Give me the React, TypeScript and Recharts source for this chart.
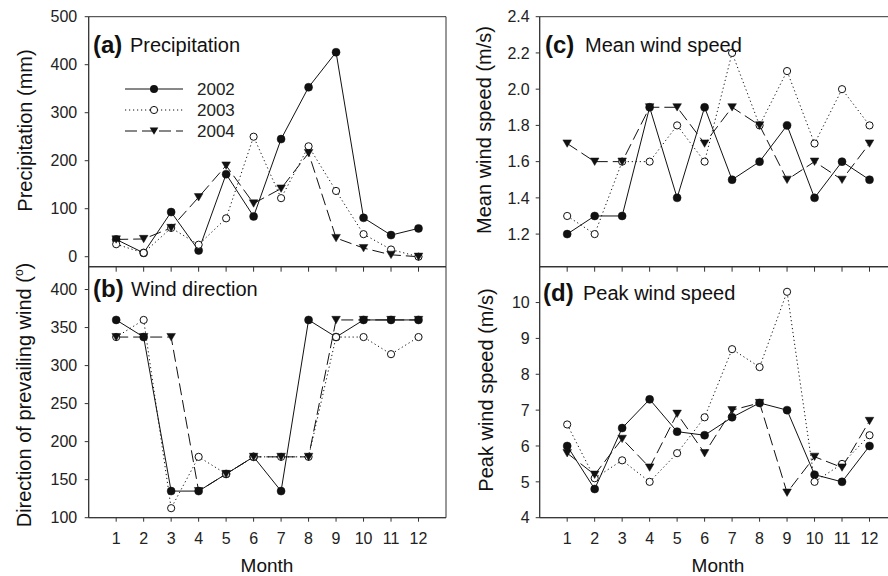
import React from 'react';
import { LineChart, Line, XAxis, YAxis, ReferenceArea } from 'recharts';

const months = [1, 2, 3, 4, 5, 6, 7, 8, 9, 10, 11, 12];
const seriesNames = ['2002', '2003', '2004'];

const precip2002 = [36, 8, 93, 13, 172, 84, 245, 353, 426, 81, 45, 59];
const precip2003 = [26, 8, 60, 25, 80, 250, 122, 230, 137, 47, 15, 0];
const precip2004 = [36, 37, 60, 124, 190, 111, 142, 216, 39, 18, 4, 0];

const dir2002 = [360, 337.5, 135, 135, 157.5, 180, 135, 360, 337.5, 360, 360, 360];
const dir2003 = [337.5, 360, 112.5, 180, 157.5, 180, 180, 180, 337.5, 337.5, 315, 337.5];
const dir2004 = [337.5, 337.5, 337.5, 135, 157.5, 180, 180, 180, 360, 360, 360, 360];

const mean2002 = [1.2, 1.3, 1.3, 1.9, 1.4, 1.9, 1.5, 1.6, 1.8, 1.4, 1.6, 1.5];
const mean2003 = [1.3, 1.2, 1.6, 1.6, 1.8, 1.6, 2.2, 1.8, 2.1, 1.7, 2.0, 1.8];
const mean2004 = [1.7, 1.6, 1.6, 1.9, 1.9, 1.7, 1.9, 1.8, 1.5, 1.6, 1.5, 1.7];

const peak2002 = [6.0, 4.8, 6.5, 7.3, 6.4, 6.3, 6.8, 7.2, 7.0, 5.2, 5.0, 6.0];
const peak2003 = [6.6, 5.1, 5.6, 5.0, 5.8, 6.8, 8.7, 8.2, 10.3, 5.0, 5.5, 6.3];
const peak2004 = [5.8, 5.2, 6.2, 5.4, 6.9, 5.8, 7.0, 7.2, 4.7, 5.7, 5.4, 6.7];

const precipTicks = [0, 100, 200, 300, 400, 500];
const dirTicks = [100, 150, 200, 250, 300, 350, 400];
const meanTicks = [1.2, 1.4, 1.6, 1.8, 2.0, 2.2, 2.4];
const peakTicks = [4, 5, 6, 7, 8, 9, 10];

const FONT = '"Liberation Sans", Arial, Helvetica, sans-serif';
const INK = '#111';
const AXIS = '#333';
const W = 900;
const H = 576;
const YW = 50;
const XH = 40;

const build = (a: number[], b: number[], c: number[]) =>
  months.map((m, i) => ({ month: m, s2002: a[i], s2003: b[i], s2004: c[i] }));

const FilledDot = (p: any) => {
  if (p.cx == null || p.cy == null) return <g key={`fe${p.index}`} />;
  return <circle key={`f${p.index}`} cx={p.cx} cy={p.cy} r={4} fill={INK} stroke={INK} strokeWidth={0.5} />;
};
const OpenDot = (p: any) => {
  if (p.cx == null || p.cy == null) return <g key={`oe${p.index}`} />;
  return <circle key={`o${p.index}`} cx={p.cx} cy={p.cy} r={3.6} fill="#fff" stroke={INK} strokeWidth={1} />;
};
const TriDot = (p: any) => {
  if (p.cx == null || p.cy == null) return <g key={`te${p.index}`} />;
  const { cx, cy } = p;
  return (
    <polygon
      key={`t${p.index}`}
      points={`${cx - 4.3},${cy - 3.6} ${cx + 4.3},${cy - 3.6} ${cx},${cy + 3.8}`}
      fill={INK}
      stroke={INK}
      strokeWidth={0.5}
    />
  );
};

const DOT_DASH = '1.2 2.8';
const LONG_DASH = '12 5';

const LegendBox = ({ x, y }: { x: number; y: number }) => (
  <g transform={`translate(${x},${y})`}>
    {seriesNames.map((name, i) => {
      const ly = 11 + i * 21;
      const dash = i === 0 ? undefined : i === 1 ? DOT_DASH : LONG_DASH;
      return (
        <g key={name}>
          <line x1={5} x2={63} y1={ly} y2={ly} stroke={INK} strokeWidth={1} strokeDasharray={dash} />
          {i === 0 && <circle cx={34} cy={ly} r={4} fill={INK} />}
          {i === 1 && <circle cx={34} cy={ly} r={3.6} fill="#fff" stroke={INK} />}
          {i === 2 && <polygon points={`${34 - 4.3},${ly - 3.6} ${34 + 4.3},${ly - 3.6} 34,${ly + 3.8}`} fill={INK} />}
          <text x={77} y={ly + 6} fontSize={17} fontFamily={FONT} fill="#222">
            {name}
          </text>
        </g>
      );
    })}
  </g>
);

type PanelProps = {
  data: any[];
  domain: [number, number];
  ticks: number[];
  x0: number;
  x1: number;
  y0: number;
  y1: number;
  showXLabels: boolean;
  tickMarginY: number;
  fmt?: (v: number) => string;
};

const Panel = ({ data, domain, ticks, x0, x1, y0, y1, showXLabels, tickMarginY, fmt }: PanelProps) => (
  <div style={{ position: 'absolute', left: 0, top: 0 }}>
    <LineChart
      width={W}
      height={H}
      data={data}
      margin={{ top: y0, left: x0 - YW, right: W - x1, bottom: H - y1 - XH }}
      style={{ fontFamily: FONT }}
    >
      <XAxis
        dataKey="month"
        type="number"
        domain={[0, 13]}
        ticks={months}
        allowDataOverflow
        height={XH}
        axisLine={{ stroke: AXIS, strokeWidth: 1 }}
        tickLine={{ stroke: AXIS, strokeWidth: 1 }}
        tickSize={showXLabels ? 4 : 5}
        tickMargin={11}
        tick={{ fontSize: 16, fill: '#222', fontFamily: FONT }}
        tickFormatter={showXLabels ? (v: number) => String(v) : () => ''}
        interval={0}
      />
      <YAxis
        type="number"
        domain={domain}
        ticks={ticks}
        allowDataOverflow
        width={YW}
        axisLine={{ stroke: AXIS, strokeWidth: 1 }}
        tickLine={{ stroke: AXIS, strokeWidth: 1 }}
        tickSize={4}
        tickMargin={tickMarginY}
        tick={{ fontSize: 16, fill: '#222', fontFamily: FONT }}
        tickFormatter={fmt}
        interval={0}
      />
      <ReferenceArea
        x1={0}
        x2={13}
        y1={domain[0]}
        y2={domain[1]}
        fill="none"
        stroke={AXIS}
        strokeWidth={1}
        ifOverflow="visible"
      />
      <Line
        dataKey="s2002"
        name="2002"
        stroke={INK}
        strokeWidth={1}
        dot={FilledDot}
        activeDot={false}
        isAnimationActive={false}
      />
      <Line
        dataKey="s2003"
        name="2003"
        stroke={INK}
        strokeWidth={1}
        strokeDasharray={DOT_DASH}
        dot={OpenDot}
        activeDot={false}
        isAnimationActive={false}
      />
      <Line
        dataKey="s2004"
        name="2004"
        stroke={INK}
        strokeWidth={1}
        strokeDasharray={LONG_DASH}
        dot={TriDot}
        activeDot={false}
        isAnimationActive={false}
      />
    </LineChart>
  </div>
);

const precipData = build(precip2002, precip2003, precip2004);
const dirData = build(dir2002, dir2003, dir2004);
const meanData = build(mean2002, mean2003, mean2004);
const peakData = build(peak2002, peak2003, peak2004);

const PanelTitle = ({ x, y, tag, label, gap }: { x: number; y: number; tag: string; label: string; gap: number }) => (
  <g>
    <text x={x} y={y + 1} fontSize={24} fontWeight="bold" fontFamily={FONT} fill="#111">
      {tag}
    </text>
    <text x={x + gap} y={y} fontSize={20} fontFamily={FONT} fill="#111">
      {label}
    </text>
  </g>
);

export default function App() {
  return (
    <div
      style={{
        position: 'fixed',
        left: 0,
        top: 0,
        width: 888,
        height: 576,
        overflow: 'hidden',
        background: '#fff',
      }}
    >
      <Panel data={precipData} domain={[-20.8, 500]} ticks={precipTicks} x0={88.7} x1={446} y0={16.7} y1={266.7} showXLabels={false} tickMarginY={7.5} />
      <Panel data={dirData} domain={[100, 430]} ticks={dirTicks} x0={88.7} x1={446} y0={266.7} y1={517.7} showXLabels tickMarginY={7.5} />
      <Panel data={meanData} domain={[1.02, 2.4]} ticks={meanTicks} x0={539.7} x1={897} y0={16.7} y1={266.7} showXLabels={false} tickMarginY={6} fmt={(v: number) => v.toFixed(1)} />
      <Panel data={peakData} domain={[4, 11]} ticks={peakTicks} x0={539.7} x1={897} y0={266.7} y1={517.7} showXLabels tickMarginY={6} />
      <svg width={888} height={576} style={{ position: 'absolute', left: 0, top: 0, pointerEvents: 'none' }}>
        <LegendBox x={120} y={78} />
        <PanelTitle x={93} y={52} tag="(a)" label="Precipitation" gap={37} />
        <PanelTitle x={93} y={295.5} tag="(b)" label="Wind direction" gap={38} />
        <PanelTitle x={545} y={52} tag="(c)" label="Mean wind speed" gap={40} />
        <PanelTitle x={543} y={300} tag="(d)" label="Peak wind speed" gap={40} />
        <text transform="translate(31.5,130.5) rotate(-90)" textAnchor="middle" fontSize={20} fontFamily={FONT} fill="#111">
          Precipitation (mm)
        </text>
        <text transform="translate(31,395) rotate(-90)" textAnchor="middle" fontSize={20} fontFamily={FONT} fill="#111">
          Direction of prevailing wind (<tspan fontSize={12} dy={-8}>o</tspan><tspan dy={8}>)</tspan>
        </text>
        <text transform="translate(490.5,130) rotate(-90)" textAnchor="middle" fontSize={20} fontFamily={FONT} fill="#111">
          Mean wind speed (m/s)
        </text>
        <text transform="translate(493,390) rotate(-90)" textAnchor="middle" fontSize={20} fontFamily={FONT} fill="#111">
          Peak wind speed (m/s)
        </text>
        <text x={267} y={572} textAnchor="middle" fontSize={19} fontFamily={FONT} fill="#111">
          Month
        </text>
        <text x={718} y={572} textAnchor="middle" fontSize={19} fontFamily={FONT} fill="#111">
          Month
        </text>
      </svg>
    </div>
  );
}
